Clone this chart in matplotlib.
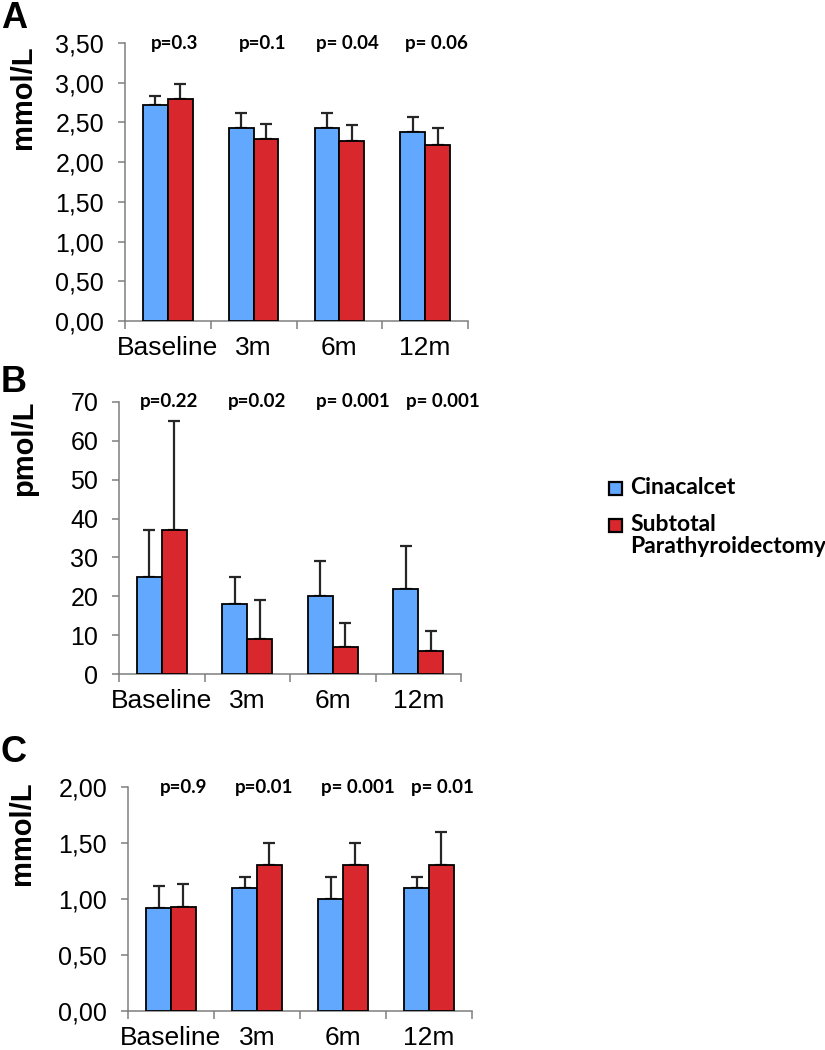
import matplotlib
matplotlib.use("Agg")
import matplotlib.pyplot as plt
import numpy as np
from matplotlib.patches import Rectangle

categories = ["Baseline", "3m", "6m", "12m"]

# Panel A (mmol/L)
a_cin = [2.72, 2.43, 2.43, 2.38]
a_cin_err = [0.11, 0.19, 0.19, 0.19]
a_ptx = [2.79, 2.29, 2.26, 2.22]
a_ptx_err = [0.19, 0.19, 0.21, 0.21]
a_p = ["p=0.3", "p=0.1", "p= 0.04", "p= 0.06"]
a_ticks = [0, 0.5, 1.0, 1.5, 2.0, 2.5, 3.0, 3.5]
a_ticklabels = ["0,00", "0,50", "1,00", "1,50", "2,00", "2,50", "3,00", "3,50"]

# Panel B (pmol/L)
b_cin = [25, 18, 20, 22]
b_cin_err = [12, 7, 9, 11]
b_ptx = [37, 9, 7, 6]
b_ptx_err = [28, 10, 6, 5]
b_p = ["p=0.22", "p=0.02", "p= 0.001", "p= 0.001"]
b_ticks = [0, 10, 20, 30, 40, 50, 60, 70]
b_ticklabels = ["0", "10", "20", "30", "40", "50", "60", "70"]

# Panel C (mmol/L)
c_cin = [0.92, 1.10, 1.00, 1.10]
c_cin_err = [0.20, 0.10, 0.20, 0.10]
c_ptx = [0.93, 1.30, 1.30, 1.30]
c_ptx_err = [0.20, 0.20, 0.20, 0.30]
c_p = ["p=0.9", "p=0.01", "p= 0.001", "p= 0.01"]
c_ticks = [0, 0.5, 1.0, 1.5, 2.0]
c_ticklabels = ["0,00", "0,50", "1,00", "1,50", "2,00"]

series_names = ["Cinacalcet", "Subtotal\nParathyroidectomy"]

BLUE = "#62a8ff"
RED = "#d9272e"
SPINE = "#7f7f7f"
NUM_FONT = "Liberation Sans"
P_FONT = "Lato"

W, H = 825, 1050
fig = plt.figure(figsize=(W / 100, H / 100), dpi=100)


def ax_rect(left, right, top, bottom):
    return [left / W, 1 - bottom / H, (right - left) / W, (bottom - top) / H]


panels = [
    dict(rect=ax_rect(125, 468, 43, 321), cin=a_cin, cin_e=a_cin_err, ptx=a_ptx, ptx_e=a_ptx_err,
         p=a_p, px=[0.58, 1.60, 2.59, 3.63], ticks=a_ticks, tl=a_ticklabels, ylim=(0, 3.5),
         ylabel="mmol/L", lab_xy=(-0.257, 0.806), letter="A", letter_y=15),
    dict(rect=ax_rect(119, 461, 402, 674), cin=b_cin, cin_e=b_cin_err, ptx=b_ptx, ptx_e=b_ptx_err,
         p=b_p, px=[0.585, 1.61, 2.73, 3.79], ticks=b_ticks, tl=b_ticklabels, ylim=(0, 70),
         ylabel="pmol/L", lab_xy=(-0.237, 0.83), letter="B", letter_y=382),
    dict(rect=ax_rect(128, 472, 787, 1011), cin=c_cin, cin_e=c_cin_err, ptx=c_ptx, ptx_e=c_ptx_err,
         p=c_p, px=[0.65, 1.58, 2.67, 3.66], ticks=c_ticks, tl=c_ticklabels, ylim=(0, 2.0),
         ylabel="mmol/L", lab_xy=(-0.268, 0.795), letter="C", letter_y=752),
]

bw = 0.29
colors = [BLUE, RED]
for i, pn in enumerate(panels):
    ax = fig.add_axes(pn["rect"])
    x = np.arange(len(categories)) + 0.5
    ax.bar(x - bw / 2, pn["cin"], bw, color=BLUE, edgecolor="black", linewidth=1.3, zorder=3,
           label=series_names[0])
    ax.bar(x + bw / 2, pn["ptx"], bw, color=RED, edgecolor="black", linewidth=1.3, zorder=3,
           label=series_names[1])
    ax.errorbar(x - bw / 2, pn["cin"], yerr=[np.zeros(4), pn["cin_e"]], fmt="none",
                ecolor="#262626", elinewidth=1.6, capsize=4.5, capthick=1.6, zorder=2)
    ax.errorbar(x + bw / 2, pn["ptx"], yerr=[np.zeros(4), pn["ptx_e"]], fmt="none",
                ecolor="#262626", elinewidth=1.6, capsize=4.5, capthick=1.6, zorder=2)
    ax.set_xlim(0, 4)
    ax.set_ylim(*pn["ylim"])
    ax.set_yticks(pn["ticks"])
    ax.set_yticklabels(pn["tl"], fontfamily=NUM_FONT, fontsize=18)
    ax.set_xticks([0, 1, 2, 3, 4])
    ax.set_xticklabels([])
    ax.set_xticks(x, minor=True)
    ax.set_xticklabels(categories, minor=True, fontfamily=NUM_FONT, fontsize=19)
    ax.tick_params(axis="x", which="major", length=6, width=1.1, color=SPINE, direction="out")
    ax.tick_params(axis="x", which="minor", length=0, pad=11)
    ax.tick_params(axis="y", length=5, width=1.1, color=SPINE, pad=10)
    for s in ["top", "right"]:
        ax.spines[s].set_visible(False)
    for s in ["left", "bottom"]:
        ax.spines[s].set_color(SPINE)
        ax.spines[s].set_linewidth(1.1)
    ax.set_ylabel(pn["ylabel"], fontfamily=NUM_FONT, fontsize=21, fontweight="bold")
    ax.yaxis.set_label_coords(*pn["lab_xy"])
    for xp, t in zip(pn["px"], pn["p"]):
        ax.text(xp, 1.0, t, transform=ax.get_xaxis_transform(), ha="center", va="center",
                fontfamily=P_FONT, fontsize=13.5, fontweight="bold", clip_on=False)
    if i == 0:
        fig.text(1 / W, 1 - 1 / H, pn["letter"], fontfamily=NUM_FONT, fontsize=26,
                 fontweight="bold", ha="left", va="top")
    else:
        fig.text(1 / W, 1 - pn["letter_y"] / H, pn["letter"], fontfamily=NUM_FONT, fontsize=26,
                 fontweight="bold", ha="left", va="center")

# legend (drawn manually so the swatch aligns with the first text line)
leg_rows = [488, 525]
for name, col, yc in zip(series_names, colors, leg_rows):
    fig.patches.append(Rectangle((609 / W, 1 - (yc + 7) / H), 13 / W, 13 / H, transform=fig.transFigure,
                                 facecolor=col, edgecolor="black", linewidth=1.6))
    fig.text(630 / W, 1 - (yc - 11) / H, name, fontfamily=P_FONT, fontsize=16.5, fontweight="bold",
             ha="left", va="top", linespacing=1.05)

fig.savefig("out.png", dpi=100)
